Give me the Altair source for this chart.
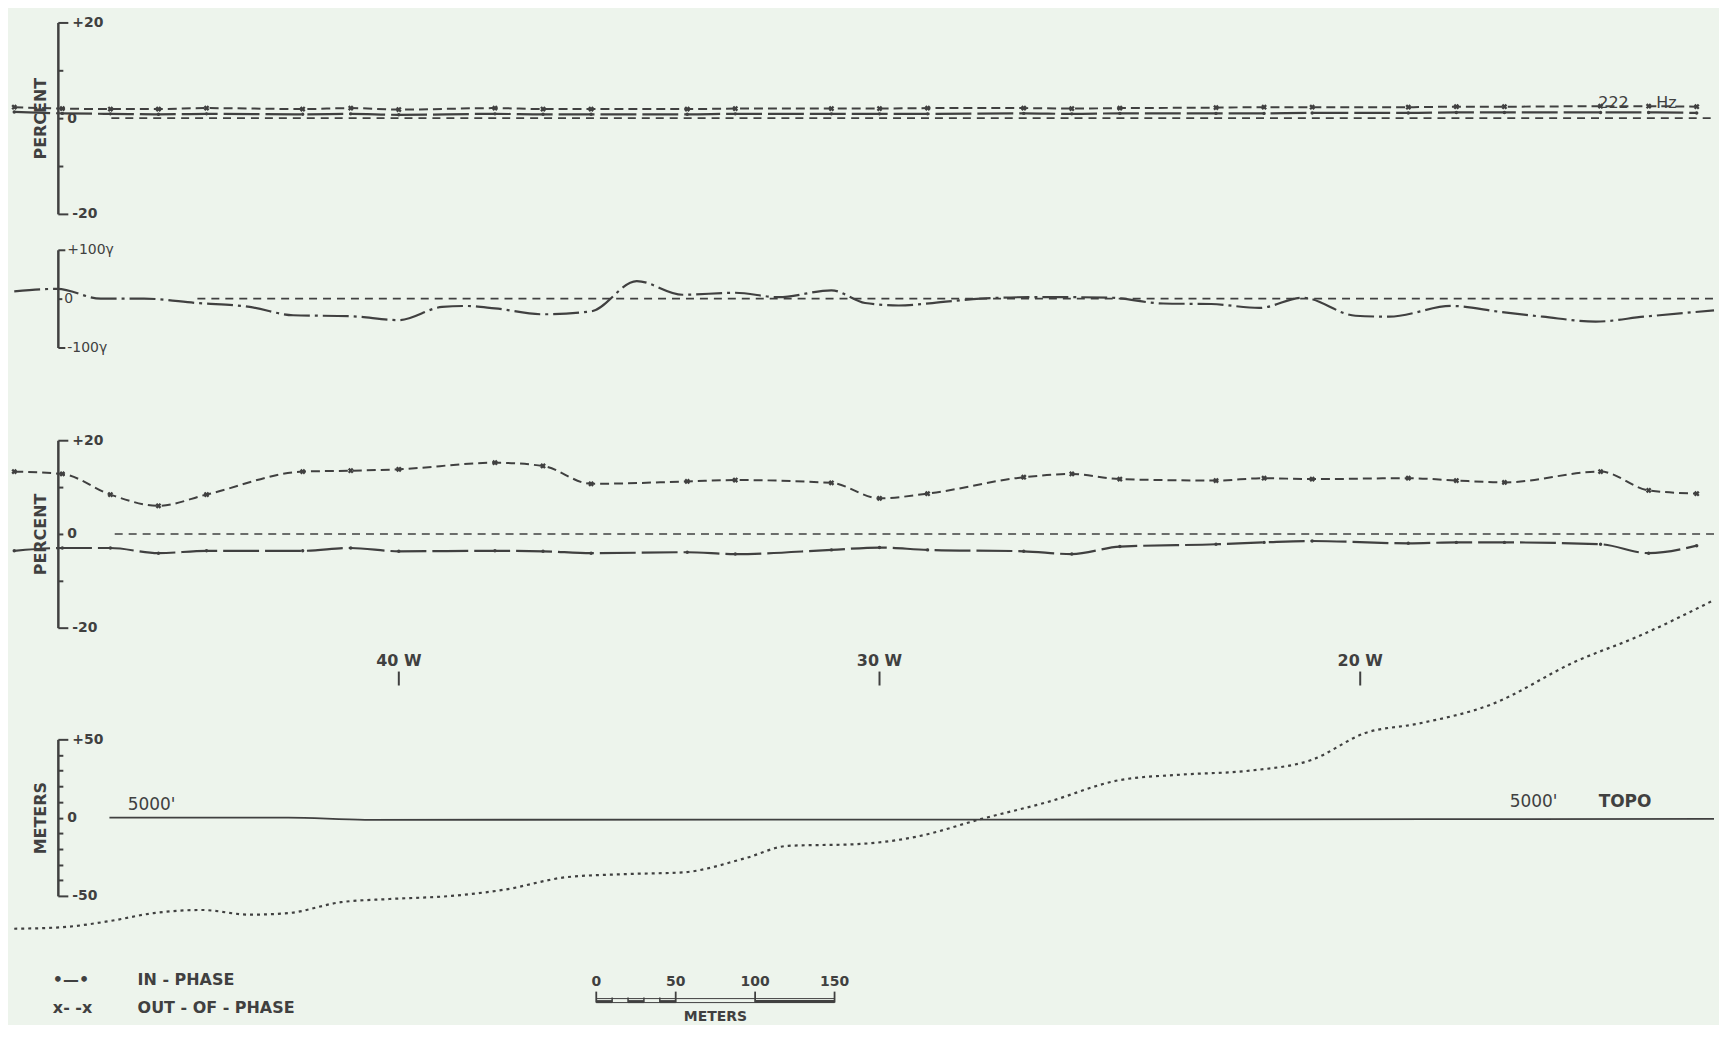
import altair as alt
import pandas as pd

INK = "#404040"
BG = "#edf4ec"
FONT = "DejaVu Sans"
W = 1711
H = 1010
X_DOM = [12.64, 48.13]
AX_OFF = -(W - 50)

# ---------------- data ----------------
stations = [48, 47, 46, 45, 44, 42, 41, 40, 38, 37, 36, 34, 33, 31, 30, 29, 27, 26,
            25, 23, 22, 21, 19, 18, 17, 15, 14, 13]
# 222 Hz panel (percent)
hf_out = [2.3, 2.0, 1.9, 1.9, 2.1, 1.9, 2.1, 1.8, 2.1, 1.9, 1.9, 1.9, 2.0, 2.0,
          2.0, 2.1, 2.1, 2.0, 2.1, 2.2, 2.3, 2.3, 2.3, 2.4, 2.4, 2.5, 2.5, 2.4]
hf_in = [1.3, 1.0, 0.9, 0.8, 0.9, 0.8, 0.9, 0.7, 0.9, 0.8, 0.8, 0.8, 0.9, 0.9,
         0.9, 0.9, 1.0, 0.9, 1.0, 1.0, 1.0, 1.1, 1.1, 1.2, 1.2, 1.2, 1.2, 1.1]
# lower percent panel
lf_out = [13.3, 12.8, 8.4, 6.0, 8.4, 13.3, 13.5, 13.8, 15.2, 14.5, 10.7, 11.2, 11.5, 10.9,
          7.6, 8.6, 12.1, 12.8, 11.7, 11.4, 11.9, 11.7, 11.9, 11.4, 11.0, 13.3, 9.3, 8.6]
lf_in = [-3.6, -3.0, -3.0, -4.1, -3.6, -3.6, -3.0, -3.7, -3.6, -3.7, -4.1, -3.9, -4.3, -3.4,
         -2.9, -3.4, -3.7, -4.3, -2.7, -2.2, -1.8, -1.5, -2.0, -1.8, -1.8, -2.2, -4.1, -2.5]
# magnetics panel (gammas)
mag_s = [48.0, 47.1, 46.2, 45.3, 44.2, 43.1, 42.2, 41.0, 40.0, 39.1, 38.6, 38.0, 37.0,
         36.0, 35.05, 34.1, 33.0, 32.1, 31.0, 30.3, 29.6, 28.9, 27.9, 26.9, 26.1, 25.2,
         24.1, 23.1, 22.1, 21.2, 20.1, 19.4, 18.1, 17.1, 16.2, 15.1, 14.1, 12.64]
mag_v = [15, 20, 0, 0, -9, -17, -34, -36, -44, -17, -15, -20, -32,
         -26, 36, 8, 12, 3, 17, -9, -14, -9, 0, 3, 3, 2,
         -10, -11, -19, 2, -35, -37, -15, -27, -37, -47, -37, -24]
# topography (meters relative to 5000')
topo_s = [48.0, 47.0, 46.0, 45.1, 44.1, 43.1, 42.3, 41.2, 40.2, 38.9, 37.8, 36.5, 35.2,
          34.1, 32.8, 31.9, 30.5, 29.2, 27.9, 26.5, 25.0, 23.7, 22.3, 21.0, 19.9, 18.8,
          17.3, 15.5, 14.2, 12.64]
topo_v = [-71, -70, -66, -61, -59, -62, -61, -54, -52, -50, -46, -38, -36,
          -35, -26, -18, -17, -12, -1, 10, 24, 27.5, 30, 37, 54, 60,
          72, 100, 116, 139]
datum_s = [46.02, 42.3, 40.7, 25.0, 12.64]
datum_v = [0.0, 0.0, -1.4, -1.2, -0.8]
ref1_s = [45.98, 12.64]
ref2_s = [44.19, 12.64]
ref3_s = [45.91, 12.64]
freq_txt = ["222", "Hz"]
freq_s = [14.73, 13.63]
freq_v = [3.1, 3.1]
topo_txt = ["5000'", "5000'", "TOPO"]
topo_txt_s = [45.64, 16.89, 15.04]
topo_txt_v = [8.3, 10.2, 10.2]
topo_txt_w = ["normal", "normal", "bold"]
st_labels = ["40 W", "30 W", "20 W"]
st_pos = [40, 30, 20]
legend_sym = ["\u2022\u2014\u2022", "x- -x"]
legend_txt = ["IN - PHASE", "OUT - OF - PHASE"]
legend_row = [0, 1]
bar_major = [0, 50, 100, 150]
bar_minor = [10, 20, 30, 40]
bar_dark_a = [0, 20, 40, 100]
bar_dark_b = [10, 30, 50, 150]

# panel placement (pixel ranges of each panel's value scale, measured from plot top)
P1_RANGE = [205, 13]
P2_RANGE = [339, 241]
P3_RANGE = [620, 432]
P4_RANGE = [889, 732]


# ---------------- helpers ----------------
def X(field="s"):
    return alt.X(f"{field}:Q", scale=alt.Scale(domain=X_DOM, reverse=True, nice=False, zero=False),
                 axis=None)


def yax(values, expr, end, end_tick=10, tick=5, pad=4, size=14, weight="bold", title="", title_y=0):
    d = dict(orient="right", offset=AX_OFF, values=values, labelExpr=expr,
             tickSize={"condition": {"test": f"abs(datum.value) == {end}", "value": end_tick},
                       "value": tick},
             tickColor=INK, tickWidth=2, domainColor=INK, domainWidth=2.5,
             labelColor=INK, labelFont=FONT, labelFontSize=size, labelFontWeight=weight,
             labelPadding=pad, labelOverlap=False, labelFlush=False, grid=False, title=title)
    if title:
        d.update(titleAngle=270, titleX=-17, titleY=title_y, titleAlign="center",
                 titleBaseline="middle", titleFont=FONT, titleFontSize=16,
                 titleFontWeight="bold", titleColor=INK)
    return alt.Axis(**d)


def expr(top, lab_top, lab_bot):
    return (f"datum.value == {top} ? '{lab_top}' : datum.value == -{top} ? '{lab_bot}' : "
            f"datum.value == 0 ? '0' : ''")


def em_panel(df, ref_s, scale, axis, extra=()):
    ref = pd.DataFrame({"s": ref_s, "v": [0.0] * len(ref_s)})
    Yv = lambda f: alt.Y(f"{f}:Q", scale=scale, axis=axis)
    layers = [
        alt.Chart(ref).mark_line(color=INK, strokeWidth=1.6, strokeDash=[8, 6]).encode(
            x=X(), y=Yv("v")),
        alt.Chart(df).mark_line(color=INK, strokeWidth=2.2, strokeDash=[36, 6],
                                interpolate="monotone").encode(x=X(), y=Yv("inp")),
        alt.Chart(df).mark_line(color=INK, strokeWidth=2, strokeDash=[9, 5],
                                interpolate="monotone").encode(x=X(), y=Yv("out")),
        alt.Chart(df).mark_point(shape="cross", angle=45, filled=True, size=34, color=INK,
                                 opacity=1).encode(x=X(), y=Yv("out")),
        alt.Chart(df).mark_circle(size=12, color=INK, opacity=1).encode(x=X(), y=Yv("inp")),
    ]
    layers += [e(Yv) for e in extra]
    return alt.layer(*layers)


# ---------------- panel 1: 222 Hz ----------------
ys1 = alt.Scale(domain=[-20, 20], range=P1_RANGE, nice=False, zero=False)
ax1 = yax([-20, -10, 0, 10, 20], expr(20, "+20", "-20"), 20, title="PERCENT",
          title_y=(P1_RANGE[0] + P1_RANGE[1]) / 2)
d1 = pd.DataFrame({"s": stations, "out": hf_out, "inp": hf_in})
fq = pd.DataFrame({"t": freq_txt, "s": freq_s, "v": freq_v})
fq_text = lambda Yv: alt.Chart(fq).mark_text(font=FONT, fontSize=16, color=INK, align="center",
                                             baseline="middle").encode(x=X(), y=Yv("v"), text="t:N")
p1 = em_panel(d1, ref1_s, ys1, ax1, [fq_text])

# ---------------- panel 2: magnetics ----------------
ys2 = alt.Scale(domain=[-100, 100], range=P2_RANGE, nice=False, zero=False)
ax2 = yax([-100, 0, 100], expr(100, "+100\u03b3", "-100\u03b3"), 100,
          end_tick=7, tick=4, pad=2, size=14, weight="normal")
d2 = pd.DataFrame({"s": mag_s, "v": mag_v})
r2 = pd.DataFrame({"s": ref2_s, "v": [0.0, 0.0]})
p2 = alt.layer(
    alt.Chart(r2).mark_line(color=INK, strokeWidth=1.6, strokeDash=[8, 6]).encode(
        x=X(), y=alt.Y("v:Q", scale=ys2, axis=ax2)),
    alt.Chart(d2).mark_line(color=INK, strokeWidth=2.2, strokeDash=[26, 5, 3, 5],
                            interpolate="monotone").encode(
        x=X(), y=alt.Y("v:Q", scale=ys2, axis=ax2)),
)

# ---------------- panel 3: percent ----------------
ys3 = alt.Scale(domain=[-20, 20], range=P3_RANGE, nice=False, zero=False)
ax3 = yax([-20, -10, 0, 10, 20], expr(20, "+20", "-20"), 20, title="PERCENT",
          title_y=(P3_RANGE[0] + P3_RANGE[1]) / 2)
d3 = pd.DataFrame({"s": stations, "out": lf_out, "inp": lf_in})
p3 = em_panel(d3, ref3_s, ys3, ax3)

# station labels between panels 3 and 4
st = pd.DataFrame({"t": st_labels, "s": st_pos})
st_text = alt.Chart(st).mark_text(font=FONT, fontSize=16, fontWeight="bold", color=INK,
                                   align="center", baseline="middle").encode(
    x=X(), y=alt.value(653), text="t:N")
st_tick = alt.Chart(st).mark_rule(color=INK, strokeWidth=2).encode(
    x=X(), y=alt.value(664), y2=alt.value(678))
st_layer = alt.layer(st_text, st_tick)

# ---------------- panel 4: topography ----------------
ys4 = alt.Scale(domain=[-50, 50], range=P4_RANGE, nice=False, zero=False)
ax4 = yax(list(range(-50, 51, 10)), expr(50, "+50", "-50"), 50, title="METERS",
          title_y=(P4_RANGE[0] + P4_RANGE[1]) / 2)
d4 = pd.DataFrame({"s": topo_s, "v": topo_v})
dd = pd.DataFrame({"s": datum_s, "v": datum_v})
tt = pd.DataFrame({"t": topo_txt, "s": topo_txt_s, "v": topo_txt_v, "w": topo_txt_w})
p4 = alt.layer(
    alt.Chart(dd).mark_line(color=INK, strokeWidth=1.8, interpolate="monotone").encode(
        x=X(), y=alt.Y("v:Q", scale=ys4, axis=ax4)),
    alt.Chart(d4).mark_line(color=INK, strokeWidth=2.2, strokeDash=[3, 4],
                            interpolate="monotone").encode(
        x=X(), y=alt.Y("v:Q", scale=ys4, axis=ax4)),
    alt.Chart(tt).transform_filter("datum.w == 'normal'").mark_text(
        font=FONT, fontSize=17, color=INK, align="left", baseline="middle").encode(
        x=X(), y=alt.Y("v:Q", scale=ys4, axis=ax4), text="t:N"),
    alt.Chart(tt).transform_filter("datum.w == 'bold'").mark_text(
        font=FONT, fontSize=17, fontWeight="bold", color=INK, align="left",
        baseline="middle").encode(x=X(), y=alt.Y("v:Q", scale=ys4, axis=ax4), text="t:N"),
)

# ---------------- legend + scale bar ----------------
MX = alt.Scale(domain=[-370.3, 703.6], nice=False, zero=False)
MXe = lambda f: alt.X(f"{f}:Q", scale=MX, axis=None)
ROW = alt.Scale(domain=[0, 1], range=[973, 1001])
lg = pd.DataFrame({"sym": legend_sym, "t": legend_txt, "row": legend_row})
bm = pd.DataFrame({"m": bar_major, "t": [str(v) for v in bar_major]})
bn = pd.DataFrame({"m": bar_minor})
bk = pd.DataFrame({"m": bar_dark_a, "m1": bar_dark_b})
bl = pd.DataFrame({"m": [bar_major[0]], "m1": [bar_major[-1]], "t": ["METERS"],
                   "c": [(bar_major[0] + bar_major[-1]) / 2]})
legend_layer = alt.layer(
    alt.Chart(lg).mark_text(font=FONT, fontSize=16, fontWeight="bold", color=INK,
                            align="left", baseline="middle").encode(
        x=alt.value(45), y=alt.Y("row:Q", scale=ROW, axis=None), text="sym:N"),
    alt.Chart(lg).mark_text(font=FONT, fontSize=16, fontWeight="bold", color=INK,
                            align="left", baseline="middle").encode(
        x=alt.value(130), y=alt.Y("row:Q", scale=ROW, axis=None), text="t:N"),
)
scale_layer = alt.layer(
    alt.Chart(bm).mark_text(font=FONT, fontSize=14, fontWeight="bold", color=INK,
                            align="center", baseline="middle").encode(
        x=MXe("m"), y=alt.value(975), text="t:N"),
    alt.Chart(bm).mark_rule(color=INK, strokeWidth=1.8).encode(
        x=MXe("m"), y=alt.value(985), y2=alt.value(996)),
    alt.Chart(bn).mark_rule(color=INK, strokeWidth=1.5).encode(
        x=MXe("m"), y=alt.value(991), y2=alt.value(996)),
    alt.Chart(bl).mark_rule(color=INK, strokeWidth=1).encode(
        x=MXe("m"), x2="m1:Q", y=alt.value(992)),
    alt.Chart(bl).mark_rule(color=INK, strokeWidth=1).encode(
        x=MXe("m"), x2="m1:Q", y=alt.value(996)),
    alt.Chart(bk).mark_rule(color=INK, strokeWidth=3).encode(
        x=MXe("m"), x2="m1:Q", y=alt.value(995)),
    alt.Chart(bl).mark_text(font=FONT, fontSize=14, fontWeight="bold", color=INK,
                            align="center", baseline="middle").encode(
        x=MXe("c"), y=alt.value(1010), text="t:N"),
)

# ---------------- assemble ----------------
chart = alt.layer(p1, p2, p3, st_layer, p4, legend_layer, scale_layer).resolve_scale(
    x="independent", y="independent"
).properties(
    width=W, height=H, background=BG,
    padding={"left": 0, "top": 0, "right": 0, "bottom": 0},
).configure_view(stroke=None)

chart.save("out.html", embed_options={"renderer": "svg", "actions": False})
